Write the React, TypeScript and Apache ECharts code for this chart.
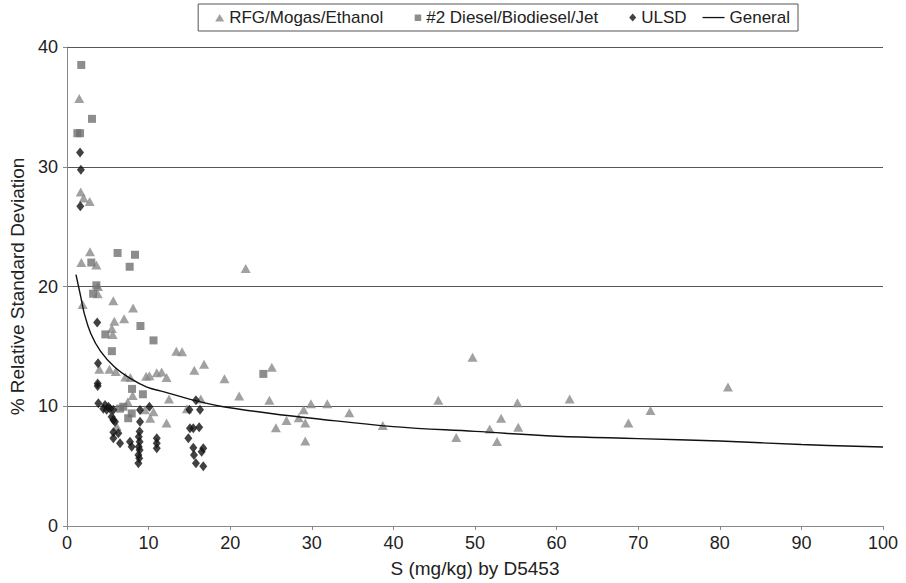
import React, { useEffect, useRef } from "react";
import * as echarts from "echarts";

const rfgPoints: [number, number][] = [
  [1.5, 35.7], [1.68, 27.9], [2.04, 27.4], [2.78, 27.1], [2.82, 22.9], [1.76, 22.0],
  [3.6, 21.8], [3.8, 20.0], [3.76, 19.4], [1.92, 18.5], [5.67, 18.8], [8.1, 18.2],
  [5.8, 17.1], [7.0, 17.3], [5.5, 16.5], [5.6, 16.0], [13.4, 14.6], [14.1, 14.55],
  [3.96, 13.1], [5.2, 13.1], [5.97, 12.9], [16.8, 13.5], [15.6, 13.0], [7.15, 12.45],
  [7.76, 12.4], [9.7, 12.5], [10.1, 12.55], [11.0, 12.8], [11.6, 12.85], [12.2, 12.4],
  [8.05, 10.9], [12.5, 10.6], [16.4, 10.6], [7.45, 10.35], [9.56, 9.7], [10.6, 9.55],
  [14.7, 9.8], [10.2, 9.0], [12.2, 8.6], [6.1, 8.3], [21.9, 21.5], [25.1, 13.25],
  [19.3, 12.3], [21.1, 10.85], [24.8, 10.5], [29.9, 10.2], [31.9, 10.2], [29.0, 9.7],
  [34.6, 9.45], [28.4, 9.05], [29.2, 8.6], [26.9, 8.8], [25.6, 8.2], [38.7, 8.4],
  [29.2, 7.1], [49.7, 14.1], [45.5, 10.5], [55.2, 10.3], [61.6, 10.6], [71.5, 9.65],
  [53.2, 9.0], [68.8, 8.6], [51.8, 8.1], [55.3, 8.25], [47.7, 7.4], [52.7, 7.05],
  [81.0, 11.6],
];

const dieselPoints: [number, number][] = [
  [1.75, 38.5], [3.06, 34.0], [1.27, 32.8], [1.6, 32.8], [6.2, 22.8], [8.33, 22.65],
  [2.98, 22.0], [7.68, 21.65], [3.6, 20.1], [3.2, 19.4], [9.0, 16.7], [4.7, 16.0],
  [10.6, 15.5], [5.5, 14.6], [7.97, 11.45], [9.3, 11.0], [6.5, 9.8], [6.9, 9.96],
  [7.93, 9.4], [7.5, 9.0], [24.06, 12.7],
];

const ulsdPoints: [number, number][] = [
  [1.6, 31.2], [1.7, 29.75], [1.63, 26.7], [3.7, 17.0], [3.8, 13.6], [3.76, 11.9],
  [3.76, 11.7], [3.84, 10.25], [4.66, 10.1], [5.07, 9.96], [4.45, 9.8], [4.86, 9.7],
  [5.27, 9.8], [5.68, 9.7], [5.47, 9.13], [5.68, 8.85], [5.88, 8.71], [5.68, 7.82],
  [6.29, 7.74], [5.68, 7.32], [6.5, 6.9], [7.72, 7.04], [7.93, 6.62], [8.95, 8.71],
  [8.95, 9.69], [10.1, 9.96], [8.9, 7.9], [8.8, 7.46], [8.9, 7.04], [8.8, 6.62],
  [8.9, 6.35], [8.75, 5.93], [8.85, 5.65], [8.75, 5.24], [11.0, 7.32], [11.0, 6.9],
  [11.0, 6.49], [15.8, 10.5], [16.3, 9.7], [15.0, 9.7], [15.07, 8.16], [15.48, 8.16],
  [16.2, 8.24], [14.87, 7.32], [15.48, 6.54], [16.7, 6.49], [16.5, 6.2], [15.56, 5.93],
  [15.8, 5.24], [16.7, 5.0],
];

const generalX = [1.1, 1.7, 2.1, 2.9, 4.1, 5.8, 7.8, 9.8, 11.9, 15, 18.8, 25, 30, 40, 50, 60, 70, 80, 90, 100];
const generalY = [21.0, 19.1, 17.8, 16.1, 14.6, 13.3, 12.3, 11.6, 11.2, 10.6, 10.0, 9.4, 9.0, 8.3, 7.9, 7.5, 7.3, 7.1, 6.8, 6.6];

const seriesNames = ["RFG/Mogas/Ethanol", "#2 Diesel/Biodiesel/Jet", "ULSD", "General"];
const xTitle = "S (mg/kg) by D5453";
const yTitle = "% Relative Standard Deviation";

const FONT = "'Liberation Sans', Arial, Helvetica, sans-serif";

// legend icons drawn inside a 22x8 frame (the two leading moveTos fix the frame)
const ICON_TRI = "path://M0,0M22,8M13,8L17.5,0.5L22,8Z";
const ICON_SQ = "path://M0,0M22,8M15.5,1L22,1L22,7.5L15.5,7.5Z";
const ICON_DIA = "path://M0,0M22,8M18.5,0L22,4L18.5,8L15,4Z";
const ICON_LINE = "path://M0,0M22,8M0,3.4L22,3.4L22,4.7L0,4.7Z";

export default function App() {
  const ref = useRef<HTMLDivElement>(null);
  useEffect(() => {
    if (!ref.current) return;
    const chart = echarts.init(ref.current, null, { renderer: "svg" });
    const generalData = generalX.map((x, i) => [x, generalY[i]]);
    chart.setOption({
      animation: false,
      backgroundColor: "#ffffff",
      textStyle: { fontFamily: FONT, color: "#222" },
      legend: {
        right: 108,
        top: 4,
        borderColor: "#555",
        borderWidth: 1,
        padding: [5, 8, 5, 4],
        itemGap: 16,
        itemWidth: 22,
        itemHeight: 8,
        textStyle: { fontFamily: FONT, fontSize: 17, color: "#222" },
        data: [
          { name: seriesNames[0], icon: ICON_TRI, itemStyle: { color: "#8a8a8a" } },
          { name: seriesNames[1], icon: ICON_SQ, itemStyle: { color: "#707070" } },
          { name: seriesNames[2], icon: ICON_DIA, itemStyle: { color: "#111" } },
          { name: seriesNames[3], icon: ICON_LINE, itemStyle: { color: "#111" } },
        ],
      },
      grid: { left: 67, right: 23, top: 47, bottom: 57 },
      xAxis: {
        type: "value",
        min: 0,
        max: 100,
        interval: 10,
        name: xTitle,
        nameLocation: "middle",
        nameGap: 33,
        nameTextStyle: { fontFamily: FONT, fontSize: 19, color: "#222" },
        axisLine: { lineStyle: { color: "#888", width: 1 } },
        axisTick: { show: true, length: 4, inside: false, lineStyle: { color: "#888" } },
        axisLabel: { fontFamily: FONT, fontSize: 18, color: "#222", margin: 8 },
        splitLine: { show: false },
      },
      yAxis: {
        type: "value",
        min: 0,
        max: 40,
        interval: 10,
        name: yTitle,
        nameLocation: "middle",
        nameGap: 37,
        nameTextStyle: { fontFamily: FONT, fontSize: 19, color: "#222" },
        axisLine: { show: true, lineStyle: { color: "#888", width: 1 } },
        axisTick: { show: true, length: 4, lineStyle: { color: "#888" } },
        axisLabel: { fontFamily: FONT, fontSize: 18, color: "#222", margin: 9 },
        splitLine: { show: true, lineStyle: { color: "#555", width: 1 } },
      },
      series: [
        {
          name: seriesNames[0],
          type: "scatter",
          symbol: "triangle",
          symbolSize: [10, 9],
          itemStyle: { color: "#8a8a8a" },
          data: rfgPoints,
          z: 2,
        },
        {
          name: seriesNames[1],
          type: "scatter",
          symbol: "rect",
          symbolSize: 8,
          itemStyle: { color: "#707070" },
          data: dieselPoints,
          z: 3,
        },
        {
          name: seriesNames[2],
          type: "scatter",
          symbol: "diamond",
          symbolSize: [8, 10],
          itemStyle: { color: "#111" },
          data: ulsdPoints,
          z: 4,
        },
        {
          name: seriesNames[3],
          type: "line",
          smooth: 0.4,
          showSymbol: false,
          symbol: "none",
          lineStyle: { color: "#111", width: 1.4 },
          data: generalData,
          z: 5,
        },
      ],
    });
    return () => chart.dispose();
  }, []);
  return (
    <div
      ref={ref}
      style={{ position: "fixed", left: 0, top: 0, width: 906, height: 583, background: "#fff" }}
    />
  );
}
